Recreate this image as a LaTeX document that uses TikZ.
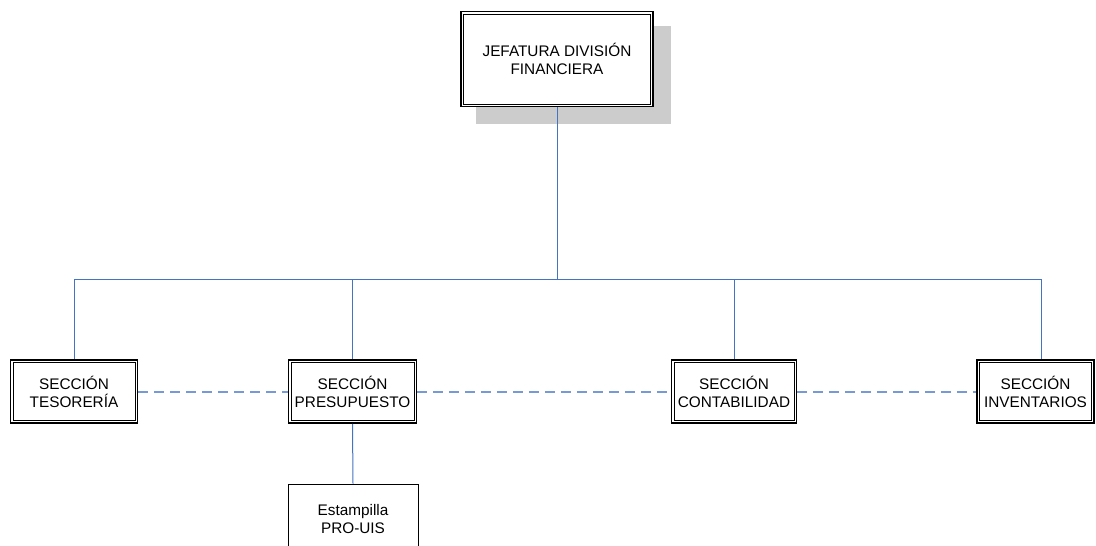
\documentclass[tikz,border=0pt]{standalone}
\usepackage{fontspec}
\setmainfont{Liberation Sans}
\usetikzlibrary{calc}
\definecolor{solidblue}{HTML}{4472C4}
\definecolor{dashblue}{HTML}{7799D4}
\definecolor{shadowgray}{HTML}{CCCCCC}
\tikzset{
  box/.style={draw=black, line width=1.4pt, fill=white, align=center, inner sep=0pt,
    font=\fontsize{11.5pt}{13.5pt}\selectfont},
  innerframe/.style={draw=black, line width=0.6pt},
  plainbox/.style={draw=black, line width=0.75pt, fill=white, align=center, inner sep=0pt,
    font=\fontsize{11.5pt}{13.5pt}\selectfont},
  solidline/.style={draw=solidblue, line width=0.75pt},
  dashline/.style={draw=dashblue, line width=1.5pt, dash pattern=on 7.5pt off 4.5pt},
}
\begin{document}
\begin{tikzpicture}[x=0.75pt,y=-0.75pt]
\useasboundingbox (0,0) rectangle (1096,546);
% shadow
\fill[shadowgray] (476,26) rectangle (671,124);
% nodes
\node[box, minimum width=192*0.75pt, minimum height=95*0.75pt] (jef) at (557,59) {JEFATURA DIVISIÓN\\FINANCIERA};
\node[box, minimum width=127*0.75pt, minimum height=63*0.75pt] (tes) at (74,391.5) {SECCIÓN\\TESORERÍA};
\node[box, minimum width=128*0.75pt, minimum height=63*0.75pt] (pre) at (352.5,391.5) {SECCIÓN\\PRESUPUESTO};
\node[box, minimum width=125*0.75pt, minimum height=63*0.75pt] (con) at (734,391.5) {SECCIÓN\\CONTABILIDAD};
\node[box, minimum width=117*0.75pt, minimum height=63*0.75pt] (inv) at (1035.5,391.5) {SECCIÓN\\INVENTARIOS};
\node[plainbox, minimum width=130*0.75pt, minimum height=70*0.75pt] (est) at (353,519) {Estampilla\\PRO-UIS};
\foreach \n in {jef,tes,pre,con,inv}
  \draw[innerframe] ($(\n.north west)+(3.4,3.4)$) rectangle ($(\n.south east)+(-3.4,-3.4)$);
\coordinate (bus) at (557,279);
% connectors
\draw[solidline] (jef.south) -- (bus);
\draw[solidline] (tes.north) |- (bus);
\draw[solidline] (pre.north) |- (bus);
\draw[solidline] (con.north) |- (bus);
\draw[solidline] (inv.north -| 1041,0) |- (bus);
\draw[solidline] (pre.south) -- (est.north);
\draw[dashline] (tes.east) -- (pre.west);
\draw[dashline] (pre.east) -- (con.west);
\draw[dashline] (con.east) -- (inv.west);
\end{tikzpicture}
\end{document}
